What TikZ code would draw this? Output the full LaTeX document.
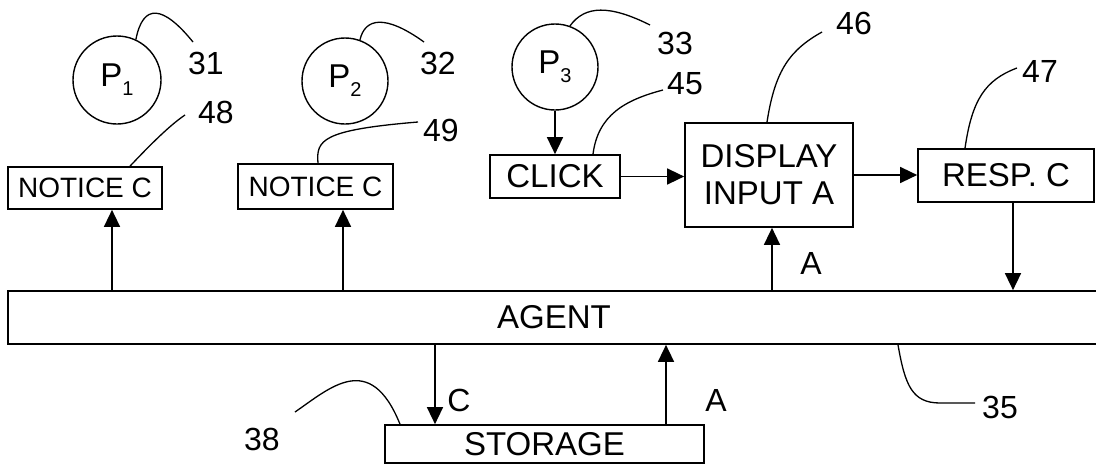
\documentclass[tikz,border=0pt]{standalone}
\usepackage{fontspec}
\setmainfont{Liberation Sans}
\usetikzlibrary{arrows.meta,shapes.geometric}
\begin{document}
\begin{tikzpicture}[x=1pt,y=-1pt,
  box/.style={draw,line width=1.7pt,inner sep=0pt,font=\fontsize{33}{37}\selectfont},
  nbox/.style={box,font=\fontsize{28}{32}\selectfont},
  circ/.style={draw,circle,line width=1.4pt,inner sep=0pt},
  arr/.style={line width=1.5pt,-{Triangle[length=17pt,width=16pt]}},
  lead/.style={line width=1.3pt},
  num/.style={inner sep=0pt,font=\fontsize{32}{32}\selectfont},
  lab/.style={inner sep=0pt,font=\fontsize{32}{32}\selectfont},
  ptext/.style={inner sep=0pt,font=\fontsize{33}{33}\selectfont}]
\useasboundingbox (0,0) rectangle (1096,466);
% circles
\node[circ,minimum size=88pt] (p1) at (117,80) {};
\node[circ,minimum size=86pt] (p2) at (345,81) {};
\node[circ,minimum size=86pt] (p3) at (555,67) {};
\node[ptext] (t1) at (p1) {P\raisebox{-9pt}{\fontsize{20}{20}\selectfont 1}};
\node[ptext] (t2) at (p2) {P\raisebox{-9pt}{\fontsize{20}{20}\selectfont 2}};
\node[ptext] (t3) at (p3) {P\raisebox{-9pt}{\fontsize{20}{20}\selectfont 3}};
% boxes
\node[nbox,minimum width=154pt,minimum height=42pt] (n1) at (85,188) {NOTICE C};
\node[nbox,minimum width=155pt,minimum height=45pt] (n2) at (315.5,186.5) {NOTICE C};
\node[box,minimum width=130pt,minimum height=43pt] (click) at (555,176.5) {CLICK};
\node[box,minimum width=168pt,minimum height=104pt,align=center] (disp) at (769,175) {DISPLAY\\INPUT A};
\node[box,minimum width=176pt,minimum height=53pt] (resp) at (1006,175.5) {RESP. C};
\node[box,minimum width=1092pt,minimum height=53pt] (agent) at (554,317.5) {AGENT};
\node[box,minimum width=319pt,minimum height=38pt] (stor) at (544.5,444) {STORAGE};
% numbers
\node[num] (l31) at (206,63) {31};
\node[num] (l32) at (438,63) {32};
\node[num] (l33) at (675,43) {33};
\node[num] (l48) at (216,112) {48};
\node[num] (l49) at (441,130) {49};
\node[num] (l45) at (685,84) {45};
\node[num] (l46) at (854,23) {46};
\node[num] (l47) at (1040,71) {47};
\node[num] (l35) at (1000,407) {35};
\node[num] (l38) at (262,439) {38};
% connector labels
\node[lab] (la1) at (811,263) {A};
\node[lab] (lc) at (459,400) {C};
\node[lab] (la2) at (716,400) {A};
% arrows
\draw[arr] (agent.north -| 112,0) -- (n1.south -| 112,0);
\draw[arr] (agent.north -| 343,0) -- (n2.south -| 343,0);
\draw[arr] (p3.south) -- (click.north);
\draw[arr] (click.east) -- (click.east -| disp.west);
\draw[arr] (disp.east) -- (disp.east -| resp.west);
\draw[arr] (resp.south -| 1013,0) -- (agent.north -| 1013,0);
\draw[arr] (agent.north -| 772,0) -- (disp.south -| 772,0);
\draw[arr] (agent.south -| 435,0) -- (stor.north -| 435,0);
\draw[arr] (stor.north -| 666,0) -- (agent.south -| 666,0);
% leaders
\draw[lead] (p1.65) .. controls (143,3) and (163,5) .. (193,42);
\draw[lead] (p2.70) .. controls (365,18) and (385,14) .. (424,42);
\draw[lead] (p3.70) .. controls (585,5) and (610,5) .. (650,25);
\draw[lead] (n1.north -| 130,0) .. controls (150,145) and (170,125) .. (185,115);
\draw[lead] (n2.north -| 318,0) .. controls (316,140) and (322,130) .. (418,122);
\draw[lead] (click.north -| 593,0) .. controls (598,115) and (625,100) .. (663,90);
\draw[lead] (disp.north -| 767,0) .. controls (775,70) and (790,50) .. (822,32);
\draw[lead] (resp.north -| 965,0) .. controls (972,100) and (985,80) .. (1017,68);
\draw[lead] (agent.south -| 898,0) .. controls (905,385) and (912,403) .. (940,403) -- (975,403);
\draw[lead] (295,412) .. controls (330,388) and (370,350) .. (stor.north -| 400,0);
\end{tikzpicture}
\end{document}
